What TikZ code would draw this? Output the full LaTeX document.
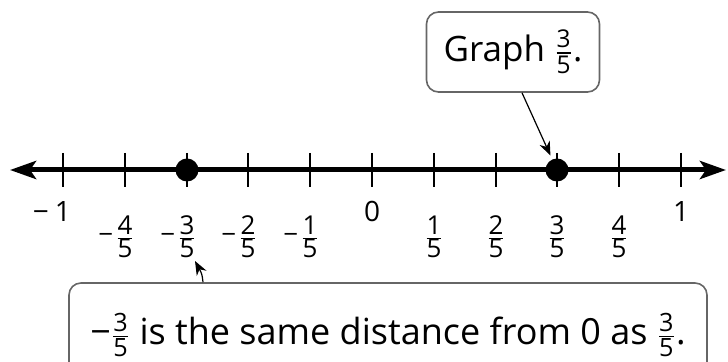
\documentclass[tikz,border=0pt]{standalone}
\usepackage{amsmath}
\usepackage{fontspec}
\setmainfont{Open Sans}
\usetikzlibrary{arrows.meta}

\tikzset{
  retta/.style={line width=2.5pt, {Stealth[length=13pt,width=9pt,inset=3pt]}-{Stealth[length=13pt,width=9pt,inset=3pt]}},
  tacca/.style={line width=1.3pt},
  punto/.style={circle, fill, inner sep=0pt, minimum size=11.5pt},
  etich/.style={font=\fontsize{13}{15}\selectfont, inner sep=0pt, anchor=base},
  nota/.style={draw=black!60, line width=0.8pt, rounded corners=6pt, font=\fontsize{18}{21}\selectfont, inner sep=0pt},
  freccia/.style={line width=0.6pt, -{Stealth[length=7pt,width=5.5pt]}}
}
% segno meno e frazioni: grandi sulla retta, piccole nei riquadri
\newcommand{\meno}{\char"2212}
\newcommand{\fr}[2]{\ensuremath{\tfrac{\mbox{#1}}{\mbox{#2}}}}
\newcommand{\mfr}[2]{\llap{\meno\kern1pt}\fr{#1}{#2}}
\newcommand{\pfr}[2]{\ensuremath{\tfrac{\text{#1}}{\text{#2}}}}

\begin{document}
\begin{tikzpicture}[x=0.5pt, y=-0.5pt]
  \useasboundingbox (0,0) rectangle (728,362);
  % retta numerica con le frecce
  \coordinate (sx) at (10,170);  \coordinate (dx) at (726,170);
  \draw[retta] (sx) -- (dx);
  % tacche ogni 1/5
  \draw[tacca] (63,153) -- (63,187);     \draw[tacca] (125,153) -- (125,187);
  \draw[tacca] (187,153) -- (187,187);   \draw[tacca] (248,153) -- (248,187);
  \draw[tacca] (310,153) -- (310,187);   \draw[tacca] (372,153) -- (372,187);
  \draw[tacca] (434,153) -- (434,187);   \draw[tacca] (496,153) -- (496,187);
  \draw[tacca] (557,153) -- (557,187);   \draw[tacca] (619,153) -- (619,187);
  \draw[tacca] (681,153) -- (681,187);
  % etichette sotto la retta
  \node[etich, font=\fontsize{14}{16}\selectfont] (lm1) at (63,222) {\llap{\meno\kern3pt}1};
  \node[etich] (lm45) at (125,244) {\mfr{4}{5}};
  \node[etich] (lm35) at (187,244) {\mfr{3}{5}};
  \node[etich] (lm25) at (248,244) {\mfr{2}{5}};
  \node[etich] (lm15) at (310,244) {\mfr{1}{5}};
  \node[etich, font=\fontsize{14}{16}\selectfont] (l0) at (372,222) {0};
  \node[etich] (l15) at (434,244) {\fr{1}{5}};
  \node[etich] (l25) at (496,244) {\fr{2}{5}};
  \node[etich] (l35) at (557,244) {\fr{3}{5}};
  \node[etich] (l45) at (619,244) {\fr{4}{5}};
  \node[etich, font=\fontsize{14}{16}\selectfont] (l1) at (681,222) {1};
  % i due punti
  \node[punto] (pm35) at (187,170) {};
  \node[punto] (p35) at (557,170) {};
  % riquadri di commento
  \node[nota, font=\fontsize{17.5}{21}\selectfont, minimum width=86.5pt, minimum height=40pt] (graf) at (513,52) {Graph \pfr{3}{5}.};
  \node[nota, minimum width=319pt, minimum height=52pt] (dist) at (388,335)
    {\meno\pfr{3}{5} is the same distance from 0 as \pfr{3}{5}.};
  \draw[freccia, shorten >=2pt] ([xshift=4.5pt]graf.south) -- (p35);
  \coordinate (piede) at (203,283);  \coordinate (punta) at (195,261);
  \draw[freccia] (dist.north -| piede) .. controls (202,274) .. (punta);
\end{tikzpicture}
\end{document}
